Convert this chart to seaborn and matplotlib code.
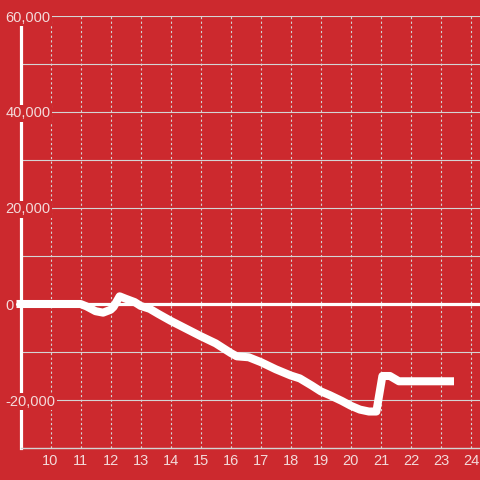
import matplotlib
matplotlib.use("Agg")
import matplotlib.pyplot as plt
import matplotlib.transforms as mtransforms
import seaborn as sns
import pandas as pd

# ---- data ----
hours = [9.0, 11.0, 11.2, 11.5, 11.75, 12.0, 12.1, 12.3, 12.5, 12.8, 13.0, 13.3,
         13.6, 14.0, 14.5, 15.0, 15.5, 16.0, 16.2, 16.6, 17.0, 17.5, 18.0, 18.3,
         18.7, 19.0, 19.3, 19.7, 20.0, 20.3, 20.6, 20.85, 21.05, 21.3, 21.6, 23.3]
values = [0, 0, -500, -1500, -1800, -1200, -600, 1600, 1100, 400, -400, -1000,
          -2100, -3500, -5100, -6700, -8200, -10200, -10900, -11100, -12100, -13600, -14900, -15500,
          -17000, -18200, -19000, -20200, -21200, -22000, -22400, -22400, -15000, -15000, -16100, -16100]

x_ticks = list(range(10, 25))
x_tick_labels = [str(v) for v in x_ticks]
y_label_values = [60000, 40000, 20000, 0, -20000]
y_label_texts = ["60,000", "40,000", "20,000", "0", "-20,000"]
y_grid_values = [60000, 50000, 40000, 30000, 20000, 10000, -10000, -20000]

BG = "#cc292e"
GRID = "#d4d4d4"
LABEL = "#f3dada"

sns.set_style("white")
plt.rcParams["font.family"] = ["Liberation Sans", "DejaVu Sans"]

fig = plt.figure(figsize=(4.8, 4.8), dpi=100, facecolor=BG)
W, H = 480, 480
ax = fig.add_axes([20.5 / W, 1 - 448 / H, (480 - 20.5) / W, (448 - 16) / H])
ax.set_facecolor(BG)

df = pd.DataFrame({"hour": hours, "value": values})

ax.set_xlim(9.0, 24.3)
ax.set_ylim(-30000, 60000)

# grid lines
for gv in y_grid_values:
    ax.axhline(gv, color=GRID, lw=0.8, zorder=1)
for xv in x_ticks:
    ax.axvline(xv, color=GRID, lw=0.8, ls=(0, (2, 2.2)), zorder=1)

# zero line
ax.axhline(0, xmin=-4 / 460, xmax=1, color="white", lw=2.3, zorder=2, clip_on=False)

sns.lineplot(data=df, x="hour", y="value", ax=ax, color="white", lw=5.8,
             sort=False, estimator=None, zorder=4)
ln = ax.lines[-1]
ln.set_solid_capstyle("projecting")
ln.set_solid_joinstyle("round")
ln.set_clip_on(False)

# spines
for s in ["top", "right"]:
    ax.spines[s].set_visible(False)
ax.spines["left"].set_color("white")
ax.spines["left"].set_linewidth(2.3)
ax.spines["left"].set_zorder(2.5)
ax.spines["bottom"].set_color(GRID)
ax.spines["bottom"].set_linewidth(1.0)

ax.set_xticks(x_ticks)
ax.set_xticklabels(x_tick_labels)
ax.tick_params(axis="x", length=0, pad=4, labelsize=10.5, labelcolor=LABEL)
ax.set_yticks([])
ax.set_xlabel("")
ax.set_ylabel("")

# y labels drawn on top of spine, with background box
trans = mtransforms.blended_transform_factory(fig.transFigure, ax.transData)
for v, t in zip(y_label_values, y_label_texts):
    ax.text(5.5 / W, v, t, transform=trans, ha="left", va="center_baseline",
            fontsize=10.5, color=LABEL, zorder=5,
            bbox=dict(facecolor=BG, edgecolor="none", pad=1.2))

fig.savefig("out.png", dpi=100, facecolor=BG)
